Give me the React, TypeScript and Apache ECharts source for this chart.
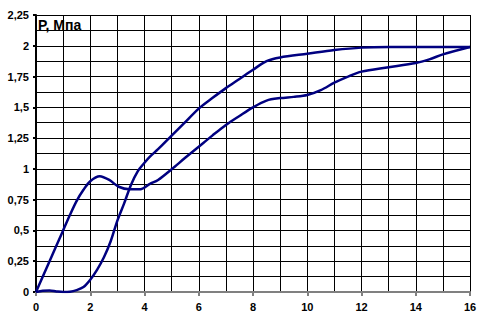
import React, { useEffect, useRef } from "react";
import * as echarts from "echarts";

const xA = [0, 0.5, 1, 1.25, 1.5, 1.75, 2, 2.35, 2.7, 3.05, 3.45, 3.85, 4.2, 4.5, 5, 5.5, 6, 6.5, 7, 7.5, 8, 8.5, 9, 9.5, 10, 10.5, 11, 11.5, 12, 13, 14, 14.5, 15, 16];
const yA = [0, 0.25, 0.5, 0.625, 0.74, 0.83, 0.9, 0.94, 0.91, 0.855, 0.835, 0.835, 0.878, 0.91, 0.997, 1.09, 1.18, 1.27, 1.357, 1.43, 1.5, 1.555, 1.575, 1.585, 1.6, 1.64, 1.7, 1.75, 1.79, 1.825, 1.86, 1.89, 1.93, 1.99];

const xB = [0, 0.25, 0.5, 0.75, 1, 1.25, 1.5, 1.75, 2, 2.25, 2.5, 2.75, 3, 3.25, 3.5, 3.75, 4, 4.2, 4.5, 5, 5.5, 6, 6.5, 7, 7.5, 8, 8.5, 9, 10, 11, 12, 13, 14, 15, 16];
const yB = [0, 0.01, 0.012, 0.005, 0, 0.002, 0.015, 0.04, 0.1, 0.18, 0.28, 0.41, 0.58, 0.72, 0.87, 0.98, 1.05, 1.1, 1.16, 1.27, 1.38, 1.49, 1.575, 1.656, 1.73, 1.805, 1.875, 1.905, 1.935, 1.965, 1.985, 1.99, 1.99, 1.99, 1.99];

const yTitle = "P, Мпа";

export default function App() {
  const ref = useRef<HTMLDivElement>(null);
  useEffect(() => {
    const chart = echarts.init(ref.current!, null, { renderer: "svg" });
    const font = "'Liberation Sans', Arial, sans-serif";
    const lineColor = "#000080";
    chart.setOption({
      animation: false,
      backgroundColor: "#ffffff",
      grid: { left: 36, right: 13, top: 15, bottom: 32 },
      xAxis: {
        type: "value",
        min: 0,
        max: 16,
        interval: 2,
        axisLine: { show: true, lineStyle: { color: "#808080", width: 2 } },
        axisTick: { show: true, inside: false, length: 4, lineStyle: { color: "#808080", width: 2 } },
        axisLabel: { color: "#000", fontFamily: font, fontWeight: "bold", fontSize: 11, margin: 9 },
        splitLine: { show: true, lineStyle: { color: "#000", width: 1 } },
        minorTick: { show: false, splitNumber: 2 },
        minorSplitLine: { show: true, lineStyle: { color: "#000", width: 1 } },
      },
      yAxis: {
        type: "value",
        min: 0,
        max: 2.25,
        interval: 0.25,
        axisLine: { show: true, onZero: false, lineStyle: { color: "#000", width: 2 } },
        axisTick: { show: true, inside: false, length: 3, lineStyle: { color: "#000", width: 2 } },
        axisLabel: {
          color: "#000",
          fontFamily: font,
          fontWeight: "bold",
          fontSize: 11,
          margin: 7,
          formatter: (v: number) => String(v).replace(".", ","),
        },
        splitLine: { show: true, lineStyle: { color: "#000", width: 1 } },
        minorTick: { show: false, splitNumber: 2 },
        minorSplitLine: { show: true, lineStyle: { color: "#000", width: 1 } },
      },
      graphic: [
        {
          type: "text",
          left: 38,
          top: 18,
          style: { text: yTitle, fontFamily: font, fontWeight: "bold", fontSize: 14, fill: "#000" },
          z: 10,
        },
      ],
      series: [
        {
          type: "line",
          data: xA.map((x, i) => [x, yA[i]]),
          smooth: 0.3,
          showSymbol: false,
          lineStyle: { color: lineColor, width: 2.5 },
          z: 5,
        },
        {
          type: "line",
          data: xB.map((x, i) => [x, yB[i]]),
          smooth: 0.3,
          showSymbol: false,
          lineStyle: { color: lineColor, width: 2.5 },
          z: 5,
        },
      ],
    });
    return () => chart.dispose();
  }, []);
  return <div ref={ref} style={{ width: 483, height: 324, position: "absolute", left: 0, top: 0 }} />;
}
